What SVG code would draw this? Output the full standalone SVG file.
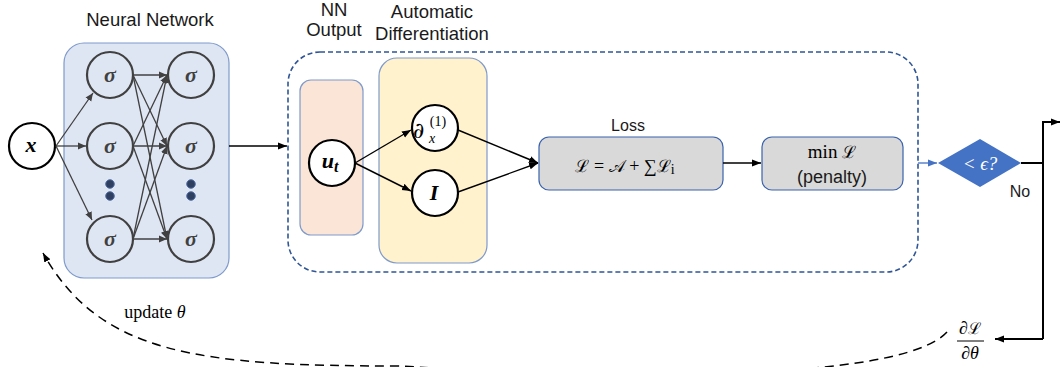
<svg xmlns="http://www.w3.org/2000/svg" width="1062" height="367" viewBox="0 0 1062 367">
<defs>
<style>
.lbl{font-family:"Liberation Sans","Open Sans",sans-serif;font-size:18.5px;fill:#1a1a1a;text-anchor:middle}
.math{font-family:"Liberation Serif","DejaVu Serif",serif;text-anchor:middle;fill:#000}
.scr{font-family:"DejaVu Serif",serif}
.neu{fill:none;stroke:#404040;stroke-width:2.2}
.sig{font-family:"Liberation Serif",serif;font-style:italic;font-weight:bold;font-size:22px;fill:#404040;text-anchor:middle}
.blk{fill:#fff;stroke:#000;stroke-width:2.2}
.e{stroke:#404040;stroke-width:1.3;fill:none;marker-end:url(#ag)}
.k{stroke:#000;stroke-width:1.4;fill:none;marker-end:url(#ak)}
.dot{fill:#2f3f5f;stroke:#5470a8;stroke-width:1}
</style>
<marker id="ag" markerUnits="userSpaceOnUse" markerWidth="9" markerHeight="8" refX="8" refY="4" orient="auto"><path d="M0,0.5 L8,4 L0,7.5 Z" fill="#404040"/></marker>
<marker id="ak" markerUnits="userSpaceOnUse" markerWidth="10" markerHeight="8" refX="9" refY="4" orient="auto"><path d="M0,0.5 L9,4 L0,7.5 Z" fill="#000"/></marker>
<marker id="ab" markerUnits="userSpaceOnUse" markerWidth="10" markerHeight="8" refX="9" refY="4" orient="auto"><path d="M0,0.5 L9,4 L0,7.5 Z" fill="#4472c4"/></marker>
</defs>
<rect width="1062" height="367" fill="#fff"/>

<!-- labels -->
<text class="lbl" x="150" y="26">Neural Network</text>
<text class="lbl" x="334" y="16">NN</text>
<text class="lbl" x="334" y="36">Output</text>
<text class="lbl" x="432" y="18">Automatic</text>
<text class="lbl" x="432" y="40">Differentiation</text>
<text class="lbl" x="628" y="131" style="font-size:16px">Loss</text>
<text class="lbl" x="1020" y="197" style="font-size:16px">No</text>
<text class="math" x="155" y="318" style="font-size:18px">update <tspan font-style="italic">θ</tspan></text>

<g id="nn">
<rect x="64" y="43" width="165" height="235" rx="20" fill="#dfe6f3" stroke="#7f9acb" stroke-width="1.2"/>
<circle class="neu" cx="110" cy="75" r="23"/><text class="sig" x="110" y="82">σ</text>
<circle class="neu" cx="110" cy="146" r="23"/><text class="sig" x="110" y="153">σ</text>
<circle class="neu" cx="110" cy="239" r="23"/><text class="sig" x="110" y="246">σ</text>
<circle class="neu" cx="191" cy="75" r="23"/><text class="sig" x="191" y="82">σ</text>
<circle class="neu" cx="191" cy="146" r="23"/><text class="sig" x="191" y="153">σ</text>
<circle class="neu" cx="191" cy="239" r="23"/><text class="sig" x="191" y="246">σ</text>
<circle class="dot" cx="110" cy="184" r="4.3"/><circle class="dot" cx="110" cy="196" r="4.3"/>
<circle class="dot" cx="191" cy="184" r="4.3"/><circle class="dot" cx="191" cy="196" r="4.3"/>
</g>

<g id="x">
<circle class="blk" cx="32" cy="146" r="23"/>
<text class="sig" x="31" y="152" style="fill:#000">x</text>
</g>

<g id="nnout">
<rect x="300" y="80" width="63" height="155" rx="11" fill="#fbe5d6" stroke="#7f9acb" stroke-width="1.2"/>
<circle class="blk" cx="332" cy="163" r="23"/>
<text class="sig" x="330" y="168" style="fill:#000">u<tspan style="font-size:16px" dy="4">t</tspan></text>
</g>

<g id="ad">
<rect x="379" y="58" width="108" height="205" rx="18" fill="#fff2cc" stroke="#7f9acb" stroke-width="1.2"/>
<circle class="blk" cx="435" cy="128" r="23"/>
<text class="scr" x="413" y="138" fill="#000" style="font-size:22px">∂</text>
<text class="math" x="438" y="126" style="font-size:14px">(1)</text>
<text class="math" x="432" y="143" style="font-size:14px;font-style:italic">x</text>
<circle class="blk" cx="435" cy="193" r="23"/>
<text class="sig" x="434" y="200" style="fill:#000">I</text>
</g>

<g id="dashbox">
<rect x="288" y="52" width="630" height="220" rx="32" fill="none" stroke="#2f5597" stroke-width="1.6" stroke-dasharray="5,3"/>
</g>

<g id="loss">
<rect x="539" y="137" width="184" height="53" rx="10" fill="#d9d9d9" stroke="#3a62ad" stroke-width="1.2"/>
<text class="math" x="625" y="172" style="font-size:18px"><tspan class="scr" style="font-size:17px">ℒ</tspan> = <tspan class="scr" style="font-size:17px">𝒜</tspan> + ∑<tspan class="scr" style="font-size:17px">ℒ</tspan><tspan style="font-size:14px" dy="2">i</tspan></text>
</g>

<g id="min">
<rect x="762" y="137" width="141" height="53" rx="10" fill="#d9d9d9" stroke="#3a62ad" stroke-width="1.2"/>
<text class="math" x="832" y="158" style="font-size:19px">min <tspan class="scr" style="font-size:17px">ℒ</tspan></text>
<text class="lbl" x="832" y="183" style="font-size:18px">(penalty)</text>
</g>

<g id="cond">
<polygon points="938,163 980,139 1021,163 980,187" fill="#4472c4"/>
<text class="math" x="980" y="170" style="font-size:19px;fill:#fff;font-style:italic">&lt; ϵ?</text>
</g>

<g id="grad">
<text class="math" x="970" y="334" style="font-size:18px">∂<tspan class="scr" style="font-size:16px">ℒ</tspan></text>
<line x1="957" y1="341" x2="984" y2="341" stroke="#000" stroke-width="1"/>
<text class="math" x="970" y="359" style="font-size:18px">∂<tspan font-style="italic">θ</tspan></text>
</g>

<g id="connectors">
<line class="e" x1="56" y1="146" x2="93" y2="93"/>
<line class="e" x1="56" y1="146" x2="86" y2="146"/>
<line class="e" x1="56" y1="146" x2="92" y2="220"/>
<line class="e" x1="133" y1="75" x2="167" y2="75"/>
<line class="e" x1="133" y1="75" x2="167" y2="146"/>
<line class="e" x1="133" y1="75" x2="167" y2="239"/>
<line class="e" x1="133" y1="146" x2="167" y2="75"/>
<line class="e" x1="133" y1="146" x2="167" y2="146"/>
<line class="e" x1="133" y1="146" x2="167" y2="239"/>
<line class="e" x1="133" y1="239" x2="167" y2="75"/>
<line class="e" x1="133" y1="239" x2="167" y2="146"/>
<line class="e" x1="133" y1="239" x2="167" y2="239"/>
<line class="k" x1="229" y1="146" x2="287" y2="146"/>
<line class="k" x1="355" y1="163" x2="411" y2="130"/>
<line class="k" x1="355" y1="163" x2="411" y2="191"/>
<line class="k" x1="458" y1="130" x2="538" y2="163"/>
<line class="k" x1="458" y1="192" x2="538" y2="163"/>
<line class="k" x1="723" y1="163" x2="761" y2="163"/>
<line x1="918" y1="163" x2="937" y2="163" stroke="#4472c4" stroke-width="1.3" marker-end="url(#ab)"/>
<polyline points="1021,163 1043,163" fill="none" stroke="#000" stroke-width="2"/>
<polyline class="k" points="1043,339 1043,122 1060,122" style="stroke-width:2"/>
<line class="k" x1="1043" y1="339" x2="995" y2="339" style="stroke-width:2"/>
<path d="M947,332 C899,384 600,378 400,366 C200,366 100,355 43,253" fill="none" stroke="#000" stroke-width="1.5" stroke-dasharray="9,6" marker-end="url(#ak)"/>
</g>
</svg>
